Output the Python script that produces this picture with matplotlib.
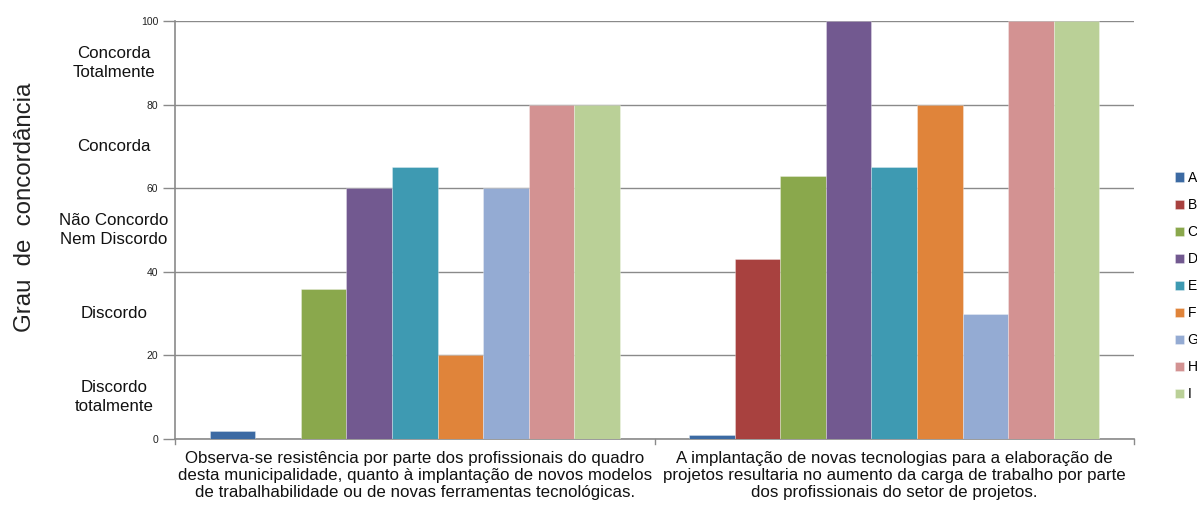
import matplotlib
matplotlib.use("Agg")
import matplotlib.pyplot as plt
import numpy as np

plt.rcParams['font.family'] = ['Liberation Sans', 'DejaVu Sans']

# Survey statements (x categories)
categories = [
    "Observa-se resistência por parte dos profissionais do quadro\n"
    "desta municipalidade, quanto à implantação de novos modelos\n"
    "de trabalhabilidade ou de novas ferramentas tecnológicas.",
    "A implantação de novas tecnologias para a elaboração de\n"
    "projetos resultaria no aumento da carga de trabalho por parte\n"
    "dos profissionais do setor de projetos.",
]

# Respondents
series = ["A", "B", "C", "D", "E", "F", "G", "H", "I"]

# Agreement score of each respondent for each statement
values_A = [2, 1]
values_B = [0, 43]
values_C = [36, 63]
values_D = [60, 100]
values_E = [65, 65]
values_F = [20, 80]
values_G = [60, 30]
values_H = [80, 100]
values_I = [80, 100]

# Y ticks and the agreement scale labels
yticks = [0, 20, 40, 60, 80, 100]
scale_labels = ["Discordo\ntotalmente", "Discordo", "Não Concordo\nNem Discordo",
                "Concorda", "Concorda\nTotalmente"]

all_values = [values_A, values_B, values_C, values_D, values_E,
              values_F, values_G, values_H, values_I]
colors = ["#3C6AA3", "#A8413F", "#8AA84C", "#725990", "#3E9AB2",
          "#E0843A", "#94ABD3", "#D39292", "#BAD097"]

W, H = 1197, 505
fig = plt.figure(figsize=(W / 100, H / 100), dpi=100)
ax = fig.add_axes([175 / W, 1 - 439 / H, (1134 - 175) / W, (439 - 21) / H])

n = len(series)
group_w = 0.855
bw = group_w / n
x = np.arange(len(categories))
for i, (name, vals, c) in enumerate(zip(series, all_values, colors)):
    offs = -group_w / 2 + bw * (i + 0.5)
    ax.bar(x + offs, vals, width=bw, color=c, edgecolor=(1, 1, 1, 0.35),
           linewidth=0.6, label=name, zorder=3)

ax.set_xlim(-0.5, len(categories) - 0.5)
ax.set_ylim(0, 100)
ax.set_yticks(yticks)
ax.set_yticklabels([str(t) for t in yticks], fontsize=7.5, color="#222222")
ax.yaxis.grid(True, color="#8a8a8a", linewidth=1.0, zorder=0)
ax.set_axisbelow(True)

for s in ["top", "right"]:
    ax.spines[s].set_visible(False)
for s in ["left", "bottom"]:
    ax.spines[s].set_color("#8a8a8a")
    ax.spines[s].set_linewidth(1.2)

ax.tick_params(axis="y", length=9, width=1.0, color="#8a8a8a", pad=3)
ax.set_xticks(x)
ax.set_xticklabels(categories, fontsize=12.2, color="#111111", linespacing=1.16)
ax.tick_params(axis="x", length=0, pad=9)
# Category separators on the x axis
for xb in np.arange(-0.5, len(categories), 1.0):
    ax.plot([xb, xb], [0, -1.3], color="#8a8a8a", lw=1.0, clip_on=False)

# Agreement scale labels centred between the gridlines
for lo, lab in zip(yticks[:-1], scale_labels):
    yfig = ax.transData.transform((0, lo + 10))[1] / fig.dpi / fig.get_figheight()
    fig.text(114 / W, yfig, lab, ha="center", va="center",
             fontsize=12.2, color="#111111", linespacing=1.3)

fig.text(25 / W, 1 - 207 / H, "Grau  de  concordância", rotation=90,
         ha="center", va="center", fontsize=17.3, color="#222222")

leg = fig.legend(loc="upper left", bbox_to_anchor=(1175 / W, 1 - 171 / H),
                 frameon=False, fontsize=10, handlelength=0.65, handleheight=0.65,
                 handletextpad=0.25, labelspacing=0.94, borderaxespad=0,
                 borderpad=0)

fig.savefig("out.png", dpi=100, facecolor="white")
